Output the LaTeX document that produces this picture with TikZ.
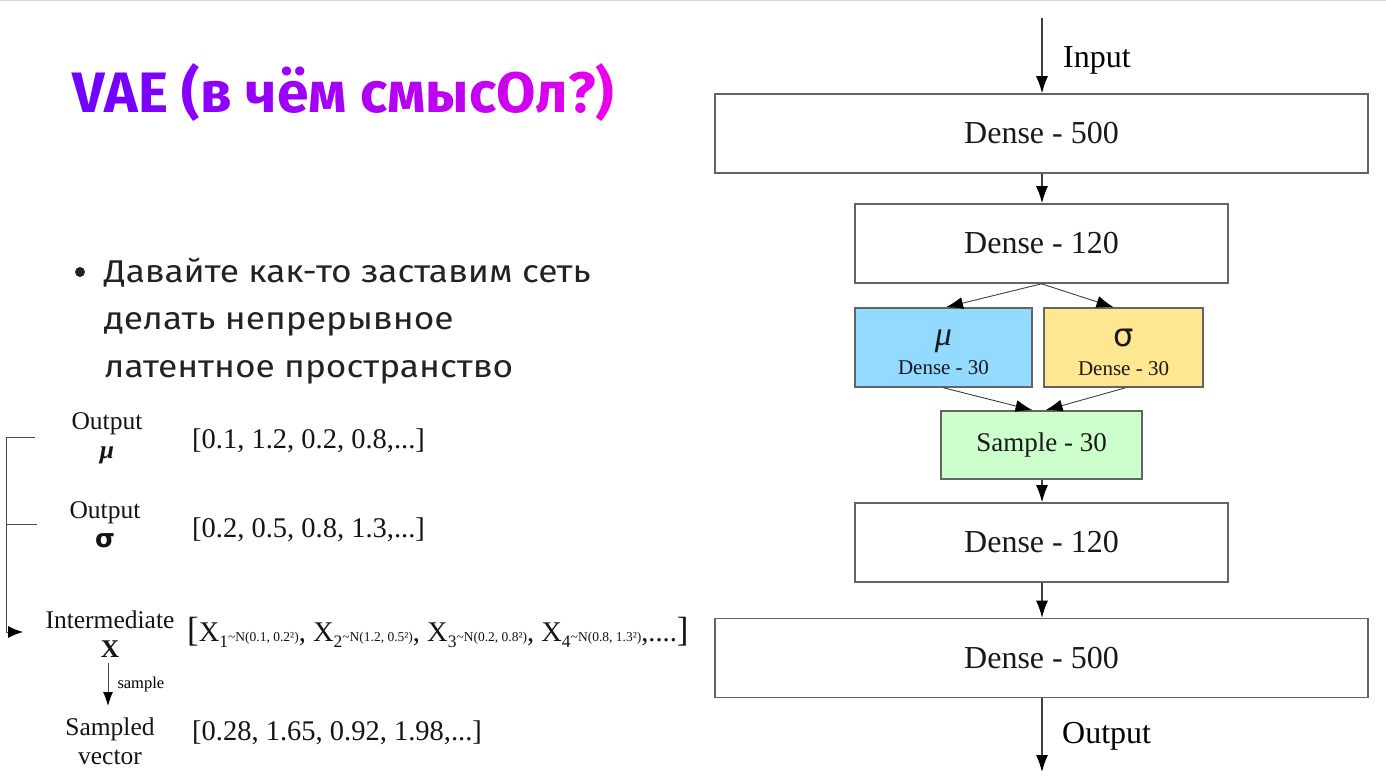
\documentclass[tikz,border=0pt]{standalone}
\usepackage{fontspec}
\setmainfont{Liberation Serif}
\newfontfamily\headfont{Fira Sans}
\newfontfamily\bodyfont{Fira Sans}[FakeStretch=1.12]
\newfontfamily\greekfont{DejaVu Sans}
\usetikzlibrary{arrows.meta}

\definecolor{titleA}{RGB}{112,0,255}
\definecolor{titleB}{RGB}{236,0,236}
\definecolor{boxline}{RGB}{100,100,100}
\definecolor{mufill}{RGB}{146,218,255}
\definecolor{sigfill}{RGB}{255,230,145}
\definecolor{sampfill}{RGB}{204,255,204}
\definecolor{bodytext}{RGB}{34,34,34}
\definecolor{rulegray}{RGB}{208,214,222}

\newcommand\fs[1]{\fontsize{#1}{#1}\selectfont}
\newcommand\tc[2]{\textcolor{titleA!#1!titleB}{#2}}
\newcommand\xterm[2]{X\raisebox{-6pt}{\fs{17.5}#1}{\fs{13.5}\textasciitilde N(#2)}}

\begin{document}
\begin{tikzpicture}[x=1pt,y=-1pt,
  tip/.style={-{Latex[length=17pt,width=12pt,color=black]}},
  smalltip/.style={-{Latex[length=14pt,width=10pt,color=black]}},
  layer/.style={draw=boxline,line width=1.6pt,inner sep=0pt,
    font=\fs{32},text=black!90},
  flow/.style={draw=black!75,line width=1.2pt,tip},
  branch/.style={draw=black!75,line width=0.9pt,tip},
  lbl/.style={align=center,font=\fontsize{25.5}{29}\selectfont,text=black!92,inner sep=0pt},
  vec/.style={anchor=west,font=\fs{28.5},text=black!92,inner sep=0pt},
  inbox/.style={align=center,inner sep=0pt,text=black!90,
    font=\fontsize{21}{29}\selectfont},
  bracketline/.style={draw=black!70,line width=1pt}]

\useasboundingbox (0,0) rectangle (1386,781);
\fill[white] (0,0) rectangle (1386,781);
\draw[rulegray,line width=1.5pt] (0,0.75) -- (1386,0.75);

% heading with a violet-to-magenta run of colours
\node[anchor=base west,inner sep=0pt,font=\headfont\bfseries\fs{57}] (title) at (72,113)
  {\tc{100}{V}\tc{95}{A}\tc{89}{E} \tc{82}{(}\tc{77}{в} \tc{70}{ч}\tc{64}{ё}\tc{58}{м} \tc{50}{с}\tc{44}{м}\tc{37}{ы}\tc{31}{с}\tc{24}{О}\tc{15}{л}\tc{8}{?}\tc{0}{)}};

% bullet point
\fill[bodytext] (80,272) circle (5);
\node[anchor=base west,inner sep=0pt,align=left,text=bodytext,
  font=\bodyfont\fontsize{31.5}{47.5}\selectfont] (bullet) at (104,377)
  {Давайте как-то заставим сеть\\делать непрерывное\\латентное пространство};

% ---- sampling illustration ----
\node[lbl] (outmu) at (107,438) {Output\\{\bfseries\itshape μ}};
\node[vec] (vecmu) at (192,441) {[0.1, 1.2, 0.2, 0.8,...]};
\node[lbl] (outsig) at (105,525) {Output\\{\greekfont\bfseries σ}};
\node[vec] (vecsig) at (192,530) {[0.2, 0.5, 0.8, 1.3,...]};
\node[lbl] (inter) at (110,634) {Intermediate\\{\bfseries X}};
\node[vec] (vecx) at (187,632) {{\fs{35}[}\xterm{1}{0.1, 0.2²}, \xterm{2}{1.2, 0.5²}, \xterm{3}{0.2, 0.8²}, \xterm{4}{0.8, 1.3²},....{\fs{35}]}};
\node[lbl] (sampled) at (110,741) {Sampled\\vector};
\node[vec] (vecsv) at (192,733) {[0.28, 1.65, 0.92, 1.98,...]};

\coordinate (bt) at (35,437);
\coordinate (bm) at (37,524);
\coordinate (bc) at (6,632);
\coordinate (bx) at (23,632);
\draw[bracketline,-{Latex[length=15pt,width=12pt,color=black]}] (bt) -| (bc) -- (bx);
\draw[bracketline] (bm) -- (bm -| bc);

\coordinate (sx) at (108,663);
\coordinate (sy) at (108,706);
\draw[bracketline,smalltip] (sx) -- (sy)
  node[midway,right=9pt,font=\fs{16.5},inner sep=0pt] (samplelbl) {sample};

% ---- network layers ----
\node[layer,minimum width=653pt,minimum height=79pt] (d500a) at (1041.5,133.5) {Dense - 500};
\node[layer,minimum width=373pt,minimum height=79pt] (d120a) at (1041.5,243.5) {Dense - 120};
\node[layer,fill=mufill,minimum width=177pt,minimum height=79pt] (mu) at (943.5,347.5) {};
\node[inbox] (mutext) at ([yshift=-5pt]mu.center)
  {{\fontsize{34}{29}\selectfont\itshape μ}\\Dense - 30};
\node[layer,fill=sigfill,minimum width=159pt,minimum height=79pt] (sig) at (1123.5,347.5) {};
\node[inbox] (sigtext) at ([yshift=-5pt]sig.center)
  {{\greekfont\fontsize{32}{29}\selectfont σ}\\Dense - 30};
\node[layer,fill=sampfill,minimum width=201pt,minimum height=68pt,font=\fs{27}] (samp) at (1041.5,445) {Sample - 30};
\node[layer,minimum width=373pt,minimum height=79pt] (d120b) at (1041.5,542.5) {Dense - 120};
\node[layer,minimum width=653pt,minimum height=79pt] (d500b) at (1041.5,658) {Dense - 500};

\coordinate (inp) at (1042,18);
\coordinate (outp) at (1042,772);
\draw[flow] (inp) -- (inp |- d500a.north);
\node[anchor=west,font=\fs{32},inner sep=0pt] (inlbl) at (1063,60) {Input};
\draw[flow] (d500a.south -| inp) -- (d120a.north -| inp);
\draw[branch] (d120a.south) -- ([xshift=2.5pt]mu.north);
\draw[branch] (d120a.south) -- ([xshift=-10pt]sig.north);
\draw[branch] (mu.south) -- ([xshift=-9pt]samp.north);
\draw[branch] ([xshift=2pt]sig.south) -- ([xshift=4pt]samp.north);
\draw[flow] (samp.south -| inp) -- (d120b.north -| inp);
\draw[flow] (d120b.south -| inp) -- (d500b.north -| inp);
\draw[flow] (d500b.south -| inp) -- (outp);
\node[anchor=west,font=\fs{32},inner sep=0pt] (outlbl) at (1062,736) {Output};

\end{tikzpicture}
\end{document}
